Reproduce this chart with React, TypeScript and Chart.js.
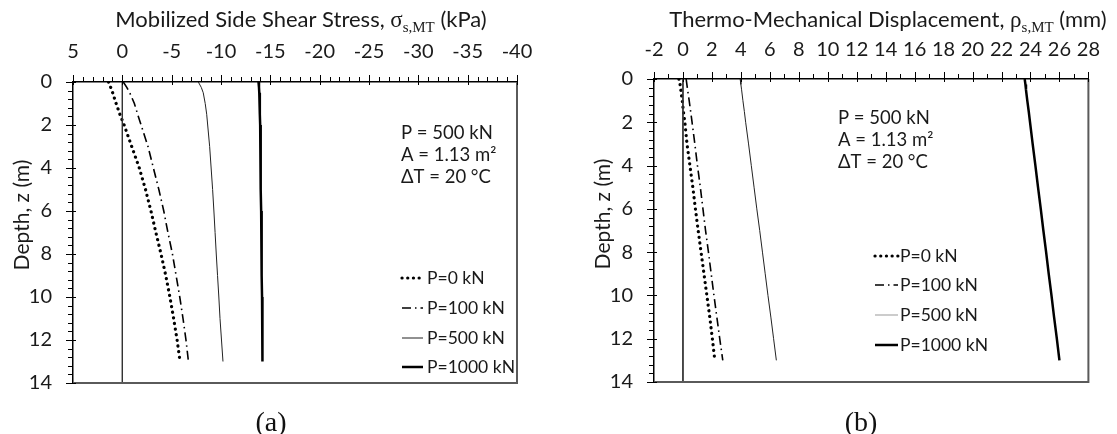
import React, { useEffect, useRef } from "react";
import { Chart, registerables } from "chart.js";

Chart.register(...registerables);

// ---------------- data ----------------
const depths = [0, 0.25, 0.5, 1, 1.5, 2, 3, 4, 5, 6, 7, 8, 9, 10, 11, 12, 13];
const zeroLineDepths = [0, 14];
const zeroLineValues = [0, 0];

const seriesLabels = ["P=0 kN", "P=100 kN", "P=500 kN", "P=1000 kN"];

// (a) Mobilized side shear stress (kPa)
const shearP0 = [1.4, 1.18, 0.98, 0.63, 0.25, -0.18, -0.95, -1.72, -2.35, -2.9, -3.4, -3.92, -4.4, -4.82, -5.2, -5.55, -5.85];
const shearP100 = [-0.1, -0.45, -0.75, -1.22, -1.55, -1.9, -2.6, -3.15, -3.7, -4.2, -4.62, -5.08, -5.45, -5.82, -6.15, -6.45, -6.7];
const shearP500 = [-7.7, -8.0, -8.2, -8.4, -8.55, -8.65, -8.85, -9.0, -9.15, -9.28, -9.4, -9.52, -9.65, -9.78, -9.9, -10.05, -10.2];
const shearP1000 = [-13.8, -13.85, -13.88, -13.92, -13.95, -13.97, -14.0, -14.02, -14.05, -14.07, -14.1, -14.12, -14.14, -14.16, -14.18, -14.2, -14.22];

// (b) Thermo-mechanical displacement (mm)
const dispP0 = [-0.28, -0.2, -0.15, -0.05, 0.03, 0.13, 0.28, 0.48, 0.68, 0.86, 1.05, 1.25, 1.45, 1.65, 1.85, 2.03, 2.2];
const dispP100 = [0.22, 0.27, 0.32, 0.43, 0.53, 0.63, 0.82, 1.0, 1.2, 1.38, 1.56, 1.76, 1.95, 2.14, 2.34, 2.54, 2.75];
const dispP500 = [3.95, 4.0, 4.05, 4.14, 4.24, 4.33, 4.53, 4.72, 4.91, 5.1, 5.3, 5.49, 5.68, 5.87, 6.07, 6.26, 6.45];
const dispP1000 = [23.6, 23.65, 23.69, 23.78, 23.88, 23.97, 24.15, 24.34, 24.52, 24.71, 24.89, 25.08, 25.26, 25.45, 25.63, 25.82, 26.0];

// tick labels
const shearTicks = [5, 0, -5, -10, -15, -20, -25, -30, -35, -40];
const dispTicks = [-2, 0, 2, 4, 6, 8, 10, 12, 14, 16, 18, 20, 22, 24, 26, 28];
const depthTicks = [0, 2, 4, 6, 8, 10, 12, 14];

const annotationLines = ["P = 500 kN", "A = 1.13 m²", "ΔT = 20 °C"];

// ---------------- styles ----------------
const FONT = "Lato";
const TEXT = "#1a1a1a";
const TICK_SIZE = 20;

const seriesStyles = [
  { borderColor: "#000", borderWidth: 3.2, borderDash: [0.1, 5.6], borderCapStyle: "round" },
  { borderColor: "#000", borderWidth: 1.6, borderDash: [9, 4, 1.5, 4], borderCapStyle: "butt" },
  { borderColor: "#222", borderWidth: 1, borderDash: [], borderCapStyle: "butt" },
  { borderColor: "#000", borderWidth: 2.5, borderDash: [], borderCapStyle: "butt" },
];

type Part = { text: string; font: string; dy?: number };

function drawRich(ctx: CanvasRenderingContext2D, parts: Part[], cx: number, cy: number) {
  let total = 0;
  const widths = parts.map((p) => {
    ctx.font = p.font;
    const w = ctx.measureText(p.text).width;
    total += w;
    return w;
  });
  let x = cx - total / 2;
  ctx.textBaseline = "alphabetic";
  ctx.textAlign = "left";
  parts.forEach((p, i) => {
    ctx.font = p.font;
    ctx.fillText(p.text, x, cy + (p.dy || 0));
    x += widths[i];
  });
}

type PanelCfg = {
  left: number;
  width: number;
  xMin: number;
  xMax: number;
  xReverse: boolean;
  xTicks: number[];
  xMajor: number;
  xMinor: number;
  topH: number;
  leftW: number;
  padRight: number;
  padBottom: number;
  xTickPad: number;
  yTickPad: number;
  title: Part[];
  titleX: number;
  titleY: number;
  yTitleX: number;
  yTitleY: number;
  series: number[][];
  legendX0: number;
  legendX1: number;
  legendTextX: number;
  legendY: number[];
  legendColors?: (string | null)[];
  annotX: number;
  annotY: number[];
  caption: string;
  captionX: number;
};

function Panel({ cfg }: { cfg: PanelCfg }) {
  const ref = useRef<HTMLCanvasElement | null>(null);

  useEffect(() => {
    if (!ref.current) return;
    const datasets: any[] = [
      {
        label: "zero",
        inLegend: false,
        data: zeroLineDepths.map((d, i) => ({ x: zeroLineValues[i], y: d })),
        showLine: true,
        pointRadius: 0,
        borderColor: "#333",
        borderWidth: 1,
      },
    ];
    cfg.series.forEach((vals, k) => {
      datasets.push({
        label: seriesLabels[k],
        inLegend: true,
        legendColor: cfg.legendColors ? cfg.legendColors[k] : null,
        data: depths.map((d, i) => ({ x: vals[i], y: d })),
        showLine: true,
        pointRadius: 0,
        tension: 0,
        ...seriesStyles[k],
      });
    });

    const deco = {
      id: "deco",
      afterDraw(chart: any) {
        const { ctx, chartArea: a, scales } = chart;
        const xs = scales.x;
        const ys = scales.y;
        ctx.save();
        // right & bottom frame
        ctx.strokeStyle = "#5a5a5a";
        ctx.lineWidth = 2;
        ctx.beginPath();
        ctx.moveTo(a.right, a.top);
        ctx.lineTo(a.right, a.bottom);
        ctx.lineTo(a.left, a.bottom);
        ctx.stroke();

        // ticks
        ctx.strokeStyle = "#000";
        ctx.lineWidth = 1;
        const nx = Math.round((cfg.xMax - cfg.xMin) / cfg.xMinor);
        const rx = Math.round(cfg.xMajor / cfg.xMinor);
        for (let i = 0; i <= nx; i++) {
          const v = cfg.xMin + i * cfg.xMinor;
          const px = Math.round(xs.getPixelForValue(v)) + 0.5;
          const major = i % rx === 0;
          ctx.beginPath();
          ctx.moveTo(px, a.top - (major ? 7 : 5));
          ctx.lineTo(px, a.top + (major ? 3 : 0));
          ctx.stroke();
        }
        const ny = Math.round(14 / 0.4);
        for (let i = 0; i <= ny; i++) {
          const v = i * 0.4;
          const py = Math.round(ys.getPixelForValue(v)) + 0.5;
          const major = i % 5 === 0;
          ctx.beginPath();
          ctx.moveTo(a.left - (major ? 7 : 5), py);
          ctx.lineTo(a.left + (major ? 3 : 0), py);
          ctx.stroke();
        }

        ctx.fillStyle = TEXT;
        // x-axis title
        drawRich(ctx, cfg.title, cfg.titleX, cfg.titleY);
        // y-axis title
        ctx.save();
        ctx.translate(cfg.yTitleX, cfg.yTitleY);
        ctx.rotate(-Math.PI / 2);
        ctx.font = `21px ${FONT}`;
        ctx.textAlign = "center";
        ctx.textBaseline = "middle";
        ctx.fillText("Depth, z (m)", 0, 0);
        ctx.restore();

        // annotation
        ctx.font = `18.5px ${FONT}`;
        ctx.textAlign = "left";
        ctx.textBaseline = "middle";
        annotationLines.forEach((t, i) => ctx.fillText(t, cfg.annotX, cfg.annotY[i]));

        // legend
        const items = chart.data.datasets.filter((d: any) => d.inLegend);
        items.forEach((d: any, i: number) => {
          const y = cfg.legendY[i];
          ctx.save();
          ctx.strokeStyle = d.legendColor || d.borderColor;
          ctx.lineWidth = d.borderWidth;
          ctx.lineCap = d.borderCapStyle || "butt";
          ctx.setLineDash(d.borderDash || []);
          ctx.beginPath();
          ctx.moveTo(cfg.legendX0, y);
          ctx.lineTo(cfg.legendX1, y);
          ctx.stroke();
          ctx.restore();
          ctx.font = `17.5px ${FONT}`;
          ctx.fillStyle = TEXT;
          ctx.textAlign = "left";
          ctx.textBaseline = "middle";
          ctx.fillText(d.label, cfg.legendTextX, y);
        });
        ctx.restore();
      },
    };

    const chart = new Chart(ref.current, {
      type: "scatter",
      data: { datasets },
      plugins: [deco],
      options: {
        animation: false,
        responsive: false,
        devicePixelRatio: 1,
        layout: { padding: { left: 0, top: 0, right: cfg.padRight, bottom: cfg.padBottom } },
        plugins: { legend: { display: false }, tooltip: { enabled: false } },
        scales: {
          x: {
            type: "linear",
            position: "top",
            min: cfg.xMin,
            max: cfg.xMax,
            reverse: cfg.xReverse,
            afterBuildTicks: (s: any) => {
              s.ticks = cfg.xTicks.map((v) => ({ value: v }));
            },
            afterFit: (s: any) => {
              s.height = cfg.topH;
            },
            grid: { display: true, drawOnChartArea: false, drawTicks: false },
            border: { display: true, color: "#000", width: 1.5 },
            ticks: {
              font: { family: FONT, size: TICK_SIZE },
              color: TEXT,
              padding: cfg.xTickPad,
              maxRotation: 0,
              autoSkip: false,
              callback: (v: any) => String(v),
            },
          },
          y: {
            type: "linear",
            position: "left",
            min: 0,
            max: 14,
            reverse: true,
            afterBuildTicks: (s: any) => {
              s.ticks = depthTicks.map((v) => ({ value: v }));
            },
            afterFit: (s: any) => {
              s.width = cfg.leftW;
            },
            grid: { display: true, drawOnChartArea: false, drawTicks: false },
            border: { display: true, color: "#000", width: 1.5 },
            ticks: {
              font: { family: FONT, size: TICK_SIZE },
              color: TEXT,
              padding: cfg.yTickPad,
              autoSkip: false,
              callback: (v: any) => String(v),
            },
          },
        },
      } as any,
    });
    return () => chart.destroy();
  }, []);

  return (
    <>
      <canvas
        ref={ref}
        width={cfg.width}
        height={434}
        style={{ position: "absolute", left: cfg.left, top: 0, width: cfg.width, height: 434, display: "block" }}
      />
      <div
        style={{
          position: "absolute",
          left: cfg.captionX - 50,
          top: 406,
          width: 100,
          textAlign: "center",
          fontFamily: '"Liberation Serif", "Times New Roman", serif',
          fontSize: 28,
          lineHeight: "32px",
          color: "#111",
        }}
      >
        {cfg.caption}
      </div>
    </>
  );
}

const serif = '"Liberation Serif", "Times New Roman", serif';

const panelA: PanelCfg = {
  left: 0,
  width: 558,
  xMin: -40,
  xMax: 5,
  xReverse: true,
  xTicks: shearTicks,
  xMajor: 5,
  xMinor: 1,
  topH: 82,
  leftW: 73,
  padRight: 41,
  padBottom: 51,
  xTickPad: 18,
  yTickPad: 21,
  title: [
    { text: "Mobilized Side Shear Stress, ", font: `22px ${FONT}` },
    { text: "σ", font: `23px ${serif}` },
    { text: "s,MT", font: `15px ${serif}`, dy: 5 },
    { text: " (kPa)", font: `22px ${FONT}` },
  ],
  titleX: 301,
  titleY: 27,
  yTitleX: 22,
  yTitleY: 215,
  series: [shearP0, shearP100, shearP500, shearP1000],
  legendX0: 402,
  legendX1: 423,
  legendTextX: 427,
  legendY: [278, 308, 338, 367],
  annotX: 401,
  annotY: [133, 155, 177],
  caption: "(a)",
  captionX: 271,
};

const panelB: PanelCfg = {
  left: 558,
  width: 559,
  xMin: -2,
  xMax: 28,
  xReverse: false,
  xTicks: dispTicks,
  xMajor: 2,
  xMinor: 1,
  topH: 79,
  leftW: 96,
  padRight: 15,
  padBottom: 52,
  xTickPad: 17,
  yTickPad: 21,
  title: [
    { text: "Thermo-Mechanical Displacement, ", font: `22px ${FONT}` },
    { text: "ρ", font: `23px ${serif}` },
    { text: "s,MT", font: `15px ${serif}`, dy: 5 },
    { text: " (mm)", font: `22px ${FONT}` },
  ],
  titleX: 330,
  titleY: 27,
  yTitleX: 45,
  yTitleY: 214,
  series: [dispP0, dispP100, dispP500, dispP1000],
  legendX0: 317,
  legendX1: 340,
  legendTextX: 342,
  legendY: [256, 285, 315, 345],
  legendColors: [null, null, "#999", null],
  annotX: 280,
  annotY: [118, 140, 162],
  caption: "(b)",
  captionX: 861,
};

export default function App() {
  return (
    <div style={{ position: "absolute", left: 0, top: 0, width: 1117, height: 434, background: "#fff" }}>
      <Panel cfg={panelA} />
      <Panel cfg={panelB} />
    </div>
  );
}
